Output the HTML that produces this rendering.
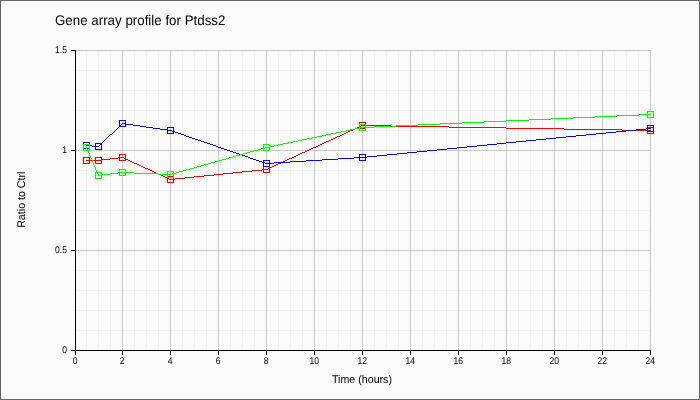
<!DOCTYPE html>
<html><head><meta charset="utf-8"><style>
html,body{margin:0;padding:0;background:#fafafa;}
svg{display:block;}
text{font-family:"Liberation Sans",Arial,sans-serif;text-rendering:geometricPrecision;}
.tk{font-size:9.33px;fill:#000;}
.ttl{font-size:13.33px;fill:#000;}
.ax{font-size:10.67px;fill:#000;}
</style></head><body>
<svg width="700" height="400" viewBox="0 0 700 400">
<rect x="0" y="0" width="700" height="400" fill="#fafafa"/>
<rect x="0.5" y="0.5" width="699" height="399" fill="none" stroke="#666"/>
<g shape-rendering="crispEdges">
<line x1="86.5" y1="50" x2="86.5" y2="350" stroke="#f0f0f0"/>
<line x1="98.5" y1="50" x2="98.5" y2="350" stroke="#f0f0f0"/>
<line x1="110.5" y1="50" x2="110.5" y2="350" stroke="#f0f0f0"/>
<line x1="134.5" y1="50" x2="134.5" y2="350" stroke="#f0f0f0"/>
<line x1="146.5" y1="50" x2="146.5" y2="350" stroke="#f0f0f0"/>
<line x1="158.5" y1="50" x2="158.5" y2="350" stroke="#f0f0f0"/>
<line x1="182.5" y1="50" x2="182.5" y2="350" stroke="#f0f0f0"/>
<line x1="194.5" y1="50" x2="194.5" y2="350" stroke="#f0f0f0"/>
<line x1="206.5" y1="50" x2="206.5" y2="350" stroke="#f0f0f0"/>
<line x1="230.5" y1="50" x2="230.5" y2="350" stroke="#f0f0f0"/>
<line x1="242.5" y1="50" x2="242.5" y2="350" stroke="#f0f0f0"/>
<line x1="254.5" y1="50" x2="254.5" y2="350" stroke="#f0f0f0"/>
<line x1="278.5" y1="50" x2="278.5" y2="350" stroke="#f0f0f0"/>
<line x1="290.5" y1="50" x2="290.5" y2="350" stroke="#f0f0f0"/>
<line x1="302.5" y1="50" x2="302.5" y2="350" stroke="#f0f0f0"/>
<line x1="326.5" y1="50" x2="326.5" y2="350" stroke="#f0f0f0"/>
<line x1="338.5" y1="50" x2="338.5" y2="350" stroke="#f0f0f0"/>
<line x1="350.5" y1="50" x2="350.5" y2="350" stroke="#f0f0f0"/>
<line x1="374.5" y1="50" x2="374.5" y2="350" stroke="#f0f0f0"/>
<line x1="386.5" y1="50" x2="386.5" y2="350" stroke="#f0f0f0"/>
<line x1="398.5" y1="50" x2="398.5" y2="350" stroke="#f0f0f0"/>
<line x1="422.5" y1="50" x2="422.5" y2="350" stroke="#f0f0f0"/>
<line x1="434.5" y1="50" x2="434.5" y2="350" stroke="#f0f0f0"/>
<line x1="446.5" y1="50" x2="446.5" y2="350" stroke="#f0f0f0"/>
<line x1="470.5" y1="50" x2="470.5" y2="350" stroke="#f0f0f0"/>
<line x1="482.5" y1="50" x2="482.5" y2="350" stroke="#f0f0f0"/>
<line x1="494.5" y1="50" x2="494.5" y2="350" stroke="#f0f0f0"/>
<line x1="518.5" y1="50" x2="518.5" y2="350" stroke="#f0f0f0"/>
<line x1="530.5" y1="50" x2="530.5" y2="350" stroke="#f0f0f0"/>
<line x1="542.5" y1="50" x2="542.5" y2="350" stroke="#f0f0f0"/>
<line x1="566.5" y1="50" x2="566.5" y2="350" stroke="#f0f0f0"/>
<line x1="578.5" y1="50" x2="578.5" y2="350" stroke="#f0f0f0"/>
<line x1="590.5" y1="50" x2="590.5" y2="350" stroke="#f0f0f0"/>
<line x1="614.5" y1="50" x2="614.5" y2="350" stroke="#f0f0f0"/>
<line x1="626.5" y1="50" x2="626.5" y2="350" stroke="#f0f0f0"/>
<line x1="638.5" y1="50" x2="638.5" y2="350" stroke="#f0f0f0"/>
<line x1="75" y1="330.5" x2="651" y2="330.5" stroke="#f0f0f0"/>
<line x1="75" y1="310.5" x2="651" y2="310.5" stroke="#f0f0f0"/>
<line x1="75" y1="290.5" x2="651" y2="290.5" stroke="#f0f0f0"/>
<line x1="75" y1="270.5" x2="651" y2="270.5" stroke="#f0f0f0"/>
<line x1="75" y1="230.5" x2="651" y2="230.5" stroke="#f0f0f0"/>
<line x1="75" y1="210.5" x2="651" y2="210.5" stroke="#f0f0f0"/>
<line x1="75" y1="190.5" x2="651" y2="190.5" stroke="#f0f0f0"/>
<line x1="75" y1="170.5" x2="651" y2="170.5" stroke="#f0f0f0"/>
<line x1="75" y1="130.5" x2="651" y2="130.5" stroke="#f0f0f0"/>
<line x1="75" y1="110.5" x2="651" y2="110.5" stroke="#f0f0f0"/>
<line x1="75" y1="90.5" x2="651" y2="90.5" stroke="#f0f0f0"/>
<line x1="75" y1="70.5" x2="651" y2="70.5" stroke="#f0f0f0"/>
<line x1="122.5" y1="50" x2="122.5" y2="350" stroke="#c8c8c8"/>
<line x1="170.5" y1="50" x2="170.5" y2="350" stroke="#c8c8c8"/>
<line x1="218.5" y1="50" x2="218.5" y2="350" stroke="#c8c8c8"/>
<line x1="266.5" y1="50" x2="266.5" y2="350" stroke="#c8c8c8"/>
<line x1="314.5" y1="50" x2="314.5" y2="350" stroke="#c8c8c8"/>
<line x1="362.5" y1="50" x2="362.5" y2="350" stroke="#c8c8c8"/>
<line x1="410.5" y1="50" x2="410.5" y2="350" stroke="#c8c8c8"/>
<line x1="458.5" y1="50" x2="458.5" y2="350" stroke="#c8c8c8"/>
<line x1="506.5" y1="50" x2="506.5" y2="350" stroke="#c8c8c8"/>
<line x1="554.5" y1="50" x2="554.5" y2="350" stroke="#c8c8c8"/>
<line x1="602.5" y1="50" x2="602.5" y2="350" stroke="#c8c8c8"/>
<line x1="650.5" y1="50" x2="650.5" y2="350" stroke="#c8c8c8"/>
<line x1="75" y1="250.5" x2="651" y2="250.5" stroke="#c8c8c8"/>
<line x1="75" y1="150.5" x2="651" y2="150.5" stroke="#c8c8c8"/>
<line x1="75" y1="50.5" x2="651" y2="50.5" stroke="#c8c8c8"/>
</g>
<g shape-rendering="crispEdges">
<line x1="75.5" y1="50" x2="75.5" y2="351" stroke="#000"/>
<line x1="75" y1="350.5" x2="651" y2="350.5" stroke="#000"/>
<line x1="71" y1="350.5" x2="75" y2="350.5" stroke="#000"/>
<line x1="71" y1="250.5" x2="75" y2="250.5" stroke="#000"/>
<line x1="71" y1="150.5" x2="75" y2="150.5" stroke="#000"/>
<line x1="71" y1="50.5" x2="75" y2="50.5" stroke="#000"/>
<line x1="75.5" y1="351" x2="75.5" y2="355" stroke="#000"/>
<line x1="122.5" y1="351" x2="122.5" y2="355" stroke="#000"/>
<line x1="170.5" y1="351" x2="170.5" y2="355" stroke="#000"/>
<line x1="218.5" y1="351" x2="218.5" y2="355" stroke="#000"/>
<line x1="266.5" y1="351" x2="266.5" y2="355" stroke="#000"/>
<line x1="314.5" y1="351" x2="314.5" y2="355" stroke="#000"/>
<line x1="362.5" y1="351" x2="362.5" y2="355" stroke="#000"/>
<line x1="410.5" y1="351" x2="410.5" y2="355" stroke="#000"/>
<line x1="458.5" y1="351" x2="458.5" y2="355" stroke="#000"/>
<line x1="506.5" y1="351" x2="506.5" y2="355" stroke="#000"/>
<line x1="554.5" y1="351" x2="554.5" y2="355" stroke="#000"/>
<line x1="602.5" y1="351" x2="602.5" y2="355" stroke="#000"/>
<line x1="650.5" y1="351" x2="650.5" y2="355" stroke="#000"/>
</g>
<g shape-rendering="crispEdges">
<path d="M86 160h13v1h-13zM98 160h4v1h-4zM102 159h8v1h-8zM110 158h8v1h-8zM118 157h5v1h-5zM122 157h2v1h-2zM124 158h2v1h-2zM126 159h2v1h-2zM128 160h2v1h-2zM130 161h2v1h-2zM132 162h2v1h-2zM134 163h3v1h-3zM137 164h2v1h-2zM139 165h2v1h-2zM141 166h2v1h-2zM143 167h2v1h-2zM145 168h3v1h-3zM148 169h2v1h-2zM150 170h2v1h-2zM152 171h2v1h-2zM154 172h2v1h-2zM156 173h2v1h-2zM158 174h3v1h-3zM161 175h2v1h-2zM163 176h2v1h-2zM165 177h2v1h-2zM167 178h2v1h-2zM169 179h2v1h-2zM170 179h5v1h-5zM175 178h10v1h-10zM185 177h9v1h-9zM194 176h10v1h-10zM204 175h10v1h-10zM214 174h9v1h-9zM223 173h10v1h-10zM233 172h9v1h-9zM242 171h10v1h-10zM252 170h10v1h-10zM262 169h5v1h-5zM266 169h2v1h-2zM268 168h2v1h-2zM270 167h2v1h-2zM272 166h2v1h-2zM274 165h2v1h-2zM276 164h2v1h-2zM278 163h3v1h-3zM281 162h2v1h-2zM283 161h2v1h-2zM285 160h2v1h-2zM287 159h2v1h-2zM289 158h3v1h-3zM292 157h2v1h-2zM294 156h2v1h-2zM296 155h2v1h-2zM298 154h2v1h-2zM300 153h2v1h-2zM302 152h3v1h-3zM305 151h2v1h-2zM307 150h2v1h-2zM309 149h2v1h-2zM311 148h2v1h-2zM313 147h3v1h-3zM316 146h2v1h-2zM318 145h2v1h-2zM320 144h2v1h-2zM322 143h2v1h-2zM324 142h2v1h-2zM326 141h3v1h-3zM329 140h2v1h-2zM331 139h2v1h-2zM333 138h2v1h-2zM335 137h2v1h-2zM337 136h3v1h-3zM340 135h2v1h-2zM342 134h2v1h-2zM344 133h2v1h-2zM346 132h2v1h-2zM348 131h2v1h-2zM350 130h3v1h-3zM353 129h2v1h-2zM355 128h2v1h-2zM357 127h2v1h-2zM359 126h2v1h-2zM361 125h2v1h-2zM362 125h29v1h-29zM391 126h58v1h-58zM449 127h57v1h-57zM506 128h58v1h-58zM564 129h58v1h-58zM622 130h29v1h-29z" fill="#ff0000"/>
<rect x="83.5" y="157.5" width="6" height="6" fill="none" stroke="#ff0000"/>
<rect x="95.5" y="157.5" width="6" height="6" fill="none" stroke="#ff0000"/>
<rect x="119.5" y="154.5" width="6" height="6" fill="none" stroke="#ff0000"/>
<rect x="167.5" y="176.5" width="6" height="6" fill="none" stroke="#ff0000"/>
<rect x="263.5" y="166.5" width="6" height="6" fill="none" stroke="#ff0000"/>
<rect x="359.5" y="122.5" width="6" height="6" fill="none" stroke="#ff0000"/>
<rect x="647.5" y="127.5" width="6" height="6" fill="none" stroke="#ff0000"/>
<path d="M86 145h6v1h-6zM92 146h7v1h-7zM98 146h1v1h-1zM99 145h1v1h-1zM100 144h1v1h-1zM101 143h1v1h-1zM102 142h1v1h-1zM103 141h1v1h-1zM104 140h1v1h-1zM105 139h1v1h-1zM106 138h1v1h-1zM107 137h1v1h-1zM108 136h1v1h-1zM109 135h1v1h-1zM110 134h2v1h-2zM112 133h1v1h-1zM113 132h1v1h-1zM114 131h1v1h-1zM115 130h1v1h-1zM116 129h1v1h-1zM117 128h1v1h-1zM118 127h1v1h-1zM119 126h1v1h-1zM120 125h1v1h-1zM121 124h1v1h-1zM122 123h1v1h-1zM122 123h4v1h-4zM126 124h7v1h-7zM133 125h7v1h-7zM140 126h6v1h-6zM146 127h7v1h-7zM153 128h7v1h-7zM160 129h7v1h-7zM167 130h4v1h-4zM170 130h2v1h-2zM172 131h3v1h-3zM175 132h3v1h-3zM178 133h3v1h-3zM181 134h3v1h-3zM184 135h2v1h-2zM186 136h3v1h-3zM189 137h3v1h-3zM192 138h3v1h-3zM195 139h3v1h-3zM198 140h3v1h-3zM201 141h3v1h-3zM204 142h3v1h-3zM207 143h3v1h-3zM210 144h3v1h-3zM213 145h3v1h-3zM216 146h2v1h-2zM218 147h3v1h-3zM221 148h3v1h-3zM224 149h3v1h-3zM227 150h3v1h-3zM230 151h3v1h-3zM233 152h3v1h-3zM236 153h3v1h-3zM239 154h3v1h-3zM242 155h3v1h-3zM245 156h3v1h-3zM248 157h2v1h-2zM250 158h3v1h-3zM253 159h3v1h-3zM256 160h3v1h-3zM259 161h3v1h-3zM262 162h3v1h-3zM265 163h2v1h-2zM266 163h8v1h-8zM274 162h16v1h-16zM290 161h16v1h-16zM306 160h16v1h-16zM322 159h16v1h-16zM338 158h16v1h-16zM354 157h9v1h-9zM362 157h5v1h-5zM367 156h10v1h-10zM377 155h10v1h-10zM387 154h10v1h-10zM397 153h10v1h-10zM407 152h10v1h-10zM417 151h10v1h-10zM427 150h10v1h-10zM437 149h10v1h-10zM447 148h10v1h-10zM457 147h10v1h-10zM467 146h10v1h-10zM477 145h10v1h-10zM487 144h10v1h-10zM497 143h9v1h-9zM506 142h10v1h-10zM516 141h10v1h-10zM526 140h10v1h-10zM536 139h10v1h-10zM546 138h10v1h-10zM556 137h10v1h-10zM566 136h10v1h-10zM576 135h10v1h-10zM586 134h10v1h-10zM596 133h10v1h-10zM606 132h10v1h-10zM616 131h10v1h-10zM626 130h10v1h-10zM636 129h10v1h-10zM646 128h5v1h-5z" fill="#0000ff"/>
<rect x="83.5" y="142.5" width="6" height="6" fill="none" stroke="#0000ff"/>
<rect x="95.5" y="143.5" width="6" height="6" fill="none" stroke="#0000ff"/>
<rect x="119.5" y="120.5" width="6" height="6" fill="none" stroke="#0000ff"/>
<rect x="167.5" y="127.5" width="6" height="6" fill="none" stroke="#0000ff"/>
<rect x="263.5" y="160.5" width="6" height="6" fill="none" stroke="#0000ff"/>
<rect x="359.5" y="154.5" width="6" height="6" fill="none" stroke="#0000ff"/>
<rect x="647.5" y="125.5" width="6" height="6" fill="none" stroke="#0000ff"/>
<path d="M86 147h1v2h-1zM87 149h1v2h-1zM88 151h1v2h-1zM89 153h1v3h-1zM90 156h1v2h-1zM91 158h1v2h-1zM92 160h1v3h-1zM93 163h1v2h-1zM94 165h1v2h-1zM95 167h1v3h-1zM96 170h1v2h-1zM97 172h1v2h-1zM98 174h1v2h-1zM98 175h4v1h-4zM102 174h8v1h-8zM110 173h8v1h-8zM118 172h5v1h-5zM122 172h12v1h-12zM134 173h24v1h-24zM158 174h13v1h-13zM170 174h2v1h-2zM172 173h4v1h-4zM176 172h3v1h-3zM179 171h4v1h-4zM183 170h3v1h-3zM186 169h4v1h-4zM190 168h4v1h-4zM194 167h3v1h-3zM197 166h4v1h-4zM201 165h3v1h-3zM204 164h4v1h-4zM208 163h3v1h-3zM211 162h4v1h-4zM215 161h3v1h-3zM218 160h4v1h-4zM222 159h4v1h-4zM226 158h3v1h-3zM229 157h4v1h-4zM233 156h3v1h-3zM236 155h4v1h-4zM240 154h3v1h-3zM243 153h4v1h-4zM247 152h3v1h-3zM250 151h4v1h-4zM254 150h4v1h-4zM258 149h3v1h-3zM261 148h4v1h-4zM265 147h2v1h-2zM266 147h3v1h-3zM269 146h5v1h-5zM274 145h4v1h-4zM278 144h5v1h-5zM283 143h5v1h-5zM288 142h5v1h-5zM293 141h5v1h-5zM298 140h4v1h-4zM302 139h5v1h-5zM307 138h5v1h-5zM312 137h5v1h-5zM317 136h5v1h-5zM322 135h4v1h-4zM326 134h5v1h-5zM331 133h5v1h-5zM336 132h5v1h-5zM341 131h5v1h-5zM346 130h4v1h-4zM350 129h5v1h-5zM355 128h5v1h-5zM360 127h3v1h-3zM362 127h12v1h-12zM374 126h22v1h-22zM396 125h22v1h-22zM418 124h22v1h-22zM440 123h22v1h-22zM462 122h22v1h-22zM484 121h22v1h-22zM506 120h23v1h-23zM529 119h22v1h-22zM551 118h22v1h-22zM573 117h22v1h-22zM595 116h22v1h-22zM617 115h22v1h-22zM639 114h12v1h-12z" fill="#00ff00"/>
<rect x="83.5" y="144.5" width="6" height="6" fill="none" stroke="#00ff00"/>
<rect x="95.5" y="172.5" width="6" height="6" fill="none" stroke="#00ff00"/>
<rect x="119.5" y="169.5" width="6" height="6" fill="none" stroke="#00ff00"/>
<rect x="167.5" y="171.5" width="6" height="6" fill="none" stroke="#00ff00"/>
<rect x="263.5" y="144.5" width="6" height="6" fill="none" stroke="#00ff00"/>
<rect x="359.5" y="124.5" width="6" height="6" fill="none" stroke="#00ff00"/>
<rect x="647.5" y="111.5" width="6" height="6" fill="none" stroke="#00ff00"/>
</g>
<text transform="translate(55,25) scale(1,1.05)" class="ttl">Gene array profile for Ptdss2</text>
<text transform="translate(362,382.6) scale(1,1.05)" text-anchor="middle" class="ax">Time (hours)</text>
<text transform="translate(25,199.7) rotate(-90) scale(1,1.05)" text-anchor="middle" class="ax">Ratio to Ctrl</text>
<text transform="translate(67,353) scale(0.92,1.05)" text-anchor="end" class="tk">0</text>
<text transform="translate(67,253) scale(0.92,1.05)" text-anchor="end" class="tk">0.5</text>
<text transform="translate(67,153) scale(0.92,1.05)" text-anchor="end" class="tk">1</text>
<text transform="translate(67,53) scale(0.92,1.05)" text-anchor="end" class="tk">1.5</text>
<text transform="translate(75.25,364) scale(0.92,1.05)" text-anchor="middle" class="tk">0</text>
<text transform="translate(122.25,364) scale(0.92,1.05)" text-anchor="middle" class="tk">2</text>
<text transform="translate(170.25,364) scale(0.92,1.05)" text-anchor="middle" class="tk">4</text>
<text transform="translate(218.25,364) scale(0.92,1.05)" text-anchor="middle" class="tk">6</text>
<text transform="translate(266.25,364) scale(0.92,1.05)" text-anchor="middle" class="tk">8</text>
<text transform="translate(314.25,364) scale(0.92,1.05)" text-anchor="middle" class="tk">10</text>
<text transform="translate(362.25,364) scale(0.92,1.05)" text-anchor="middle" class="tk">12</text>
<text transform="translate(410.25,364) scale(0.92,1.05)" text-anchor="middle" class="tk">14</text>
<text transform="translate(458.25,364) scale(0.92,1.05)" text-anchor="middle" class="tk">16</text>
<text transform="translate(506.25,364) scale(0.92,1.05)" text-anchor="middle" class="tk">18</text>
<text transform="translate(554.25,364) scale(0.92,1.05)" text-anchor="middle" class="tk">20</text>
<text transform="translate(602.25,364) scale(0.92,1.05)" text-anchor="middle" class="tk">22</text>
<text transform="translate(650.25,364) scale(0.92,1.05)" text-anchor="middle" class="tk">24</text>
</svg>
</body></html>
